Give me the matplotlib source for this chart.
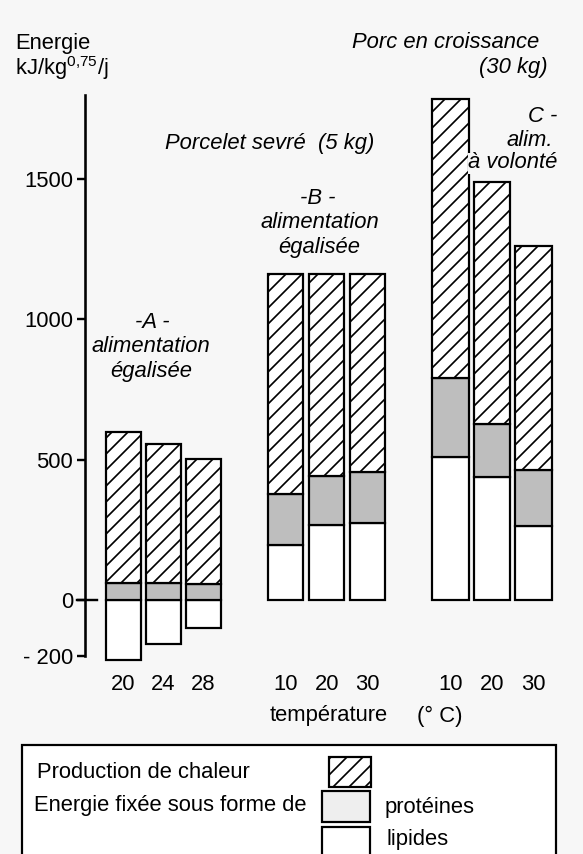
import matplotlib
matplotlib.use('Agg')
import matplotlib.pyplot as plt
from matplotlib.patches import Rectangle
import numpy as np

plt.rcParams['font.family'] = ['Liberation Sans', 'DejaVu Sans']
plt.rcParams['mathtext.fontset'] = 'custom'
plt.rcParams['mathtext.rm'] = 'Liberation Sans'
plt.rcParams['mathtext.it'] = 'Liberation Sans:italic'
plt.rcParams['hatch.linewidth'] = 0.85

# ---------------- data ----------------
temperatures_A = [20, 24, 28]
temperatures_B = [10, 20, 30]
temperatures_C = [10, 20, 30]
lipides_A = [-215, -158, -100]
proteines_A = [62, 62, 56]
chaleur_A = [538, 495, 445]
lipides_B = [196, 268, 274]
proteines_B = [181, 172, 181]
chaleur_B = [783, 720, 705]
lipides_C = [508, 439, 265]
proteines_C = [282, 189, 199]
chaleur_C = [995, 860, 797]
yticks = [-200, 0, 500, 1000, 1500]
ytick_labels = ['- 200', '0', '500', '1000', '1500']

# ---------------- layout ----------------
W, H, DPI = 583, 854, 144
FS = 11
fig = plt.figure(figsize=(W / DPI, H / DPI), dpi=DPI, facecolor='#f7f7f7')
zero_px, ppu = 600.0, 0.2807
ymin, ymax = -300, 1900
top_px = zero_px - ymax * ppu
bot_px = zero_px - ymin * ppu
ax = fig.add_axes([0, 1 - bot_px / H, 1, (bot_px - top_px) / H])
ax.set_xlim(0, W)
ax.set_ylim(ymin, ymax)
ax.patch.set_alpha(0)

groups = [
    (np.array([123.3, 163.3, 203.3]), 34.7, lipides_A, proteines_A, chaleur_A, temperatures_A),
    (np.array([285.8, 326.7, 367.5]), 35.0, lipides_B, proteines_B, chaleur_B, temperatures_B),
    (np.array([450.5, 492.0, 533.5]), 36.5, lipides_C, proteines_C, chaleur_C, temperatures_C),
]
LW = 1.1
PROT_COLOR = '#bebebe'
HATCH = '///'
for xs, w, lip, prot, heat, temps in groups:
    lip = np.array(lip); prot = np.array(prot); heat = np.array(heat)
    ax.bar(xs, lip, w, bottom=0, color='white', edgecolor='black', lw=LW, zorder=3)
    pb = np.maximum(lip, 0)
    ax.bar(xs, prot, w, bottom=pb, color=PROT_COLOR, edgecolor='black', lw=LW, zorder=3)
    ax.bar(xs, heat, w, bottom=pb + prot, color='white', edgecolor='black',
           hatch=HATCH, lw=LW, zorder=3)

for s in ['top', 'right', 'bottom']:
    ax.spines[s].set_visible(False)
ax.spines['left'].set_position(('data', 85))
ax.spines['left'].set_bounds(-200, 1800)
ax.spines['left'].set_linewidth(1.3)
ax.set_yticks(yticks)
ax.set_yticklabels(ytick_labels, fontsize=FS)
ax.tick_params(axis='y', direction='out', length=4, width=1.2, pad=2)
ax.set_xticks([])
ax.plot([77, 97], [0, 0], color='black', lw=1.2, zorder=4)

# ---------------- overlay for texts & legend ----------------
ov = fig.add_axes([0, 0, 1, 1], zorder=5)
ov.set_xlim(0, W)
ov.set_ylim(H, 0)
ov.axis('off')
ov.patch.set_alpha(0)

def t(x, y, s, ha='left', italic=False, **kw):
    ov.text(x, y, s, ha=ha, va='center', fontsize=FS,
            style='italic' if italic else 'normal', **kw)

t(15, 44, 'Energie')
t(15, 68, r'kJ/kg$^{\mathregular{0{,}75}}$/j')
t(352, 42, 'Porc en croissance', italic=True)
t(548, 68, '(30 kg)', ha='right', italic=True)
t(165, 143, 'Porcelet sevré  (5 kg)', italic=True)
t(557, 117, 'C -', ha='right', italic=True)
t(553, 141, 'alim.', ha='right', italic=True)
t(557, 163, 'à volonté', ha='right', italic=True,
  bbox=dict(facecolor='#f7f7f7', edgecolor='none', pad=0))
t(318, 198, '-B -', ha='center', italic=True)
t(320, 223, 'alimentation', ha='center', italic=True)
t(319, 248, 'égalisée', ha='center', italic=True)
t(152, 323, '-A -', ha='center', italic=True)
t(151, 347, 'alimentation', ha='center', italic=True)
t(151, 372, 'égalisée', ha='center', italic=True)

for xs, w, lip, prot, heat, temps in groups:
    for x, tt in zip(xs, temps):
        t(x, 684, str(tt), ha='center')

t(270, 716, 'température')
t(417, 716, '(° C)')

# legend
ov.add_patch(Rectangle((22, 745), 534, 130, facecolor='white', edgecolor='black', lw=1.1, zorder=1))
ov.add_patch(Rectangle((329, 757), 42, 30, facecolor='white', edgecolor='black', hatch=HATCH, lw=LW, zorder=2))
ov.add_patch(Rectangle((322, 791), 48, 31, facecolor='#eeeeee', edgecolor='black', lw=LW, zorder=2))
ov.add_patch(Rectangle((322, 827), 48, 40, facecolor='white', edgecolor='black', lw=LW, zorder=2))
t(37, 773, 'Production de chaleur')
t(34, 806, 'Energie fixée sous forme de')
t(385, 808, 'protéines')
t(386, 840, 'lipides')

fig.savefig('out.png', dpi=DPI, facecolor=fig.get_facecolor())
